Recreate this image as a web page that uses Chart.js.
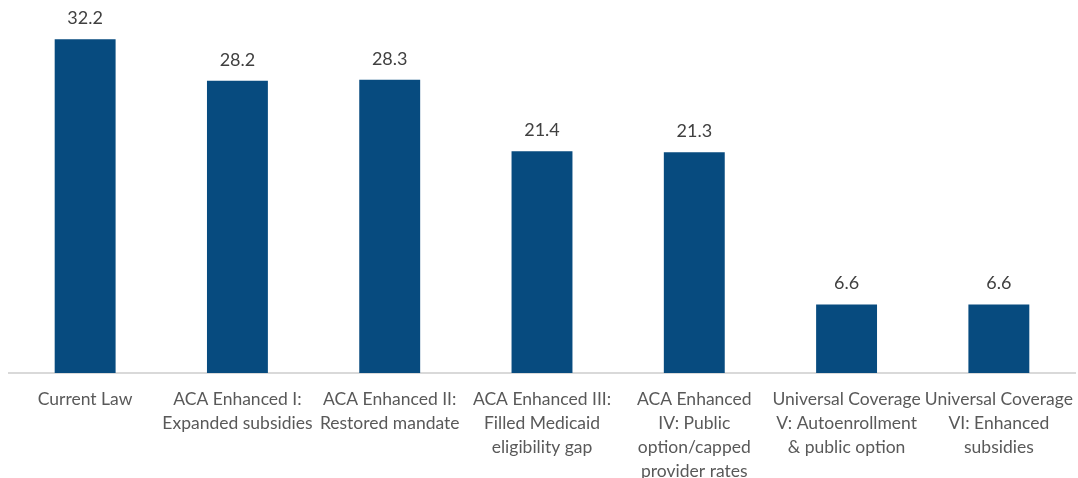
<!DOCTYPE html>
<html>
<head>
<meta charset="utf-8">
<script src="https://cdn.jsdelivr.net/npm/chart.js@4/dist/chart.umd.min.js"></script>
<style>
  html, body { margin: 0; padding: 0; background: #fff; }
  #wrap { width: 1078px; height: 478px; }
</style>
</head>
<body>
<div id="wrap"><canvas id="grafico"></canvas></div>
<script>
const categories = [
  "Current Law",
  ["ACA Enhanced I:", "Expanded subsidies"],
  ["ACA Enhanced II:", "Restored mandate"],
  ["ACA Enhanced III:", "Filled Medicaid", "eligibility gap"],
  ["ACA Enhanced", "IV: Public", "option/capped", "provider rates"],
  ["Universal Coverage", "V: Autoenrollment", "& public option"],
  ["Universal Coverage", "VI: Enhanced", "subsidies"],
];
const uninsured = [32.2, 28.2, 28.3, 21.4, 21.3, 6.6, 6.6];

// dibuja el valor encima de cada barra
const valueLabels = {
  id: "valueLabels",
  afterDatasetsDraw(chart) {
    const ctx = chart.ctx;
    const meta = chart.getDatasetMeta(0);
    ctx.save();
    ctx.font = "18px Lato";
    ctx.fillStyle = "#404040";
    ctx.textAlign = "center";
    ctx.textBaseline = "middle";
    meta.data.forEach((bar, i) => {
      ctx.fillText(uninsured[i].toFixed(1), bar.x, bar.y - 21);
    });
    ctx.restore();
  },
};

function crearGrafico() {
  const ctx = document.getElementById("grafico");
  new Chart(ctx, {
    type: "bar",
    data: {
      labels: categories,
      datasets: [
        {
          data: uninsured,
          backgroundColor: "#074b7f",
          borderWidth: 0,
          categoryPercentage: 1,
          barPercentage: 0.4,
        },
      ],
    },
    options: {
      responsive: true,
      maintainAspectRatio: false,
      animation: false,
      layout: { padding: { left: 9, right: 3, top: 0, bottom: 0 } },
      plugins: {
        legend: { display: false },
        tooltip: { enabled: false },
      },
      scales: {
        y: { display: false, min: 0, max: 36 },
        x: {
          grid: { display: false, drawTicks: false },
          border: { display: true, color: "#d9d9d9", width: 2 },
          ticks: {
            color: "#595959",
            font: { family: "Lato", size: 17.5, lineHeight: 1.37 },
            padding: 14,
            maxRotation: 0,
            autoSkip: false,
          },
          afterFit: (scale) => {
            scale.height = 105;
            scale.paddingLeft = 0;
            scale.paddingRight = 0;
          },
        },
      },
    },
    plugins: [valueLabels],
  });
}

crearGrafico();
</script>
</body>
</html>
